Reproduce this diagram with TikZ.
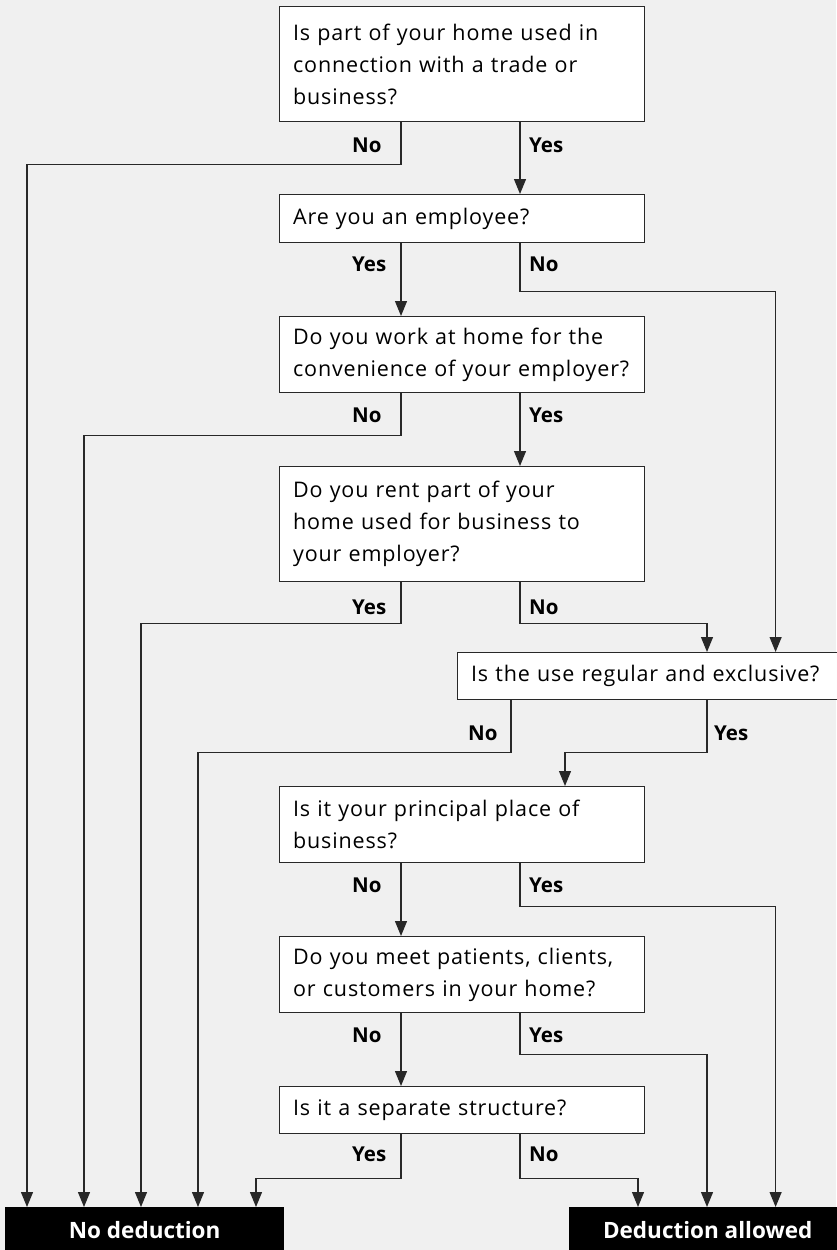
\documentclass[tikz,border=0pt]{standalone}
\usepackage{fontspec}
\setmainfont{Open Sans}[Ligatures=NoCommon]
\newfontfamily\boxfont{Open Sans}[Ligatures=NoCommon, LetterSpace=4]
\usetikzlibrary{arrows.meta}
\definecolor{bgc}{RGB}{240,240,240}
\definecolor{linec}{RGB}{40,40,40}
\begin{document}
\begin{tikzpicture}[x=1pt,y=-1pt,
  qbox/.style={draw=linec, line width=1.2pt, fill=white, anchor=north west,
    text width=338pt, inner xsep=13.5pt, inner ysep=0pt, align=left,
    font=\boxfont\fontsize{21.5}{32}\selectfont},
  endbox/.style={fill=black, text=white, anchor=north west, inner sep=0pt,
    font=\fontsize{22.5}{26}\selectfont\bfseries},
  lab/.style={anchor=west, inner sep=0pt, font=\fontsize{20.5}{24}\selectfont\bfseries},
  conn/.style={draw=linec, line width=1.2pt},
  arr/.style={conn, -{Triangle[width=12pt,length=15pt]}}]
\useasboundingbox (0,0) rectangle (836,1250);
\fill[bgc] (0,0) rectangle (836,1250);

% columns
\coordinate (cA) at (27,0);
\coordinate (cB) at (84,0);
\coordinate (cC) at (141,0);
\coordinate (cD) at (198,0);
\coordinate (cE) at (256,0);
\coordinate (cL) at (401,0);
\coordinate (cR) at (520,0);
\coordinate (cM) at (511,0);
\coordinate (cN) at (565,0);
\coordinate (cP) at (638,0);
\coordinate (cQ) at (707,0);
\coordinate (cS) at (775.6,0);

% question boxes
\node[qbox, minimum height=115pt] (b1) at (279,6) {Is part of your home used in\\connection with a trade or\\business?};
\node[qbox, minimum height=48pt] (b2) at (279,194) {Are you an employee?};
\node[qbox, minimum height=76pt] (b3) at (279,316) {Do you work at home for the\\convenience of your employer?};
\node[qbox, minimum height=115pt] (b4) at (279,466) {Do you rent part of your\\home used for business to\\your employer?};
\node[qbox, minimum height=47pt, text width=363pt] (b5) at (457,652) {Is the use regular and exclusive?};
\node[qbox, minimum height=76pt] (b6) at (279,786) {Is it your principal place of\\business?};
\node[qbox, minimum height=76pt] (b7) at (279,936) {Do you meet patients, clients,\\or customers in your home?};
\node[qbox, minimum height=47pt] (b8) at (279,1086) {Is it a separate structure?};

% end boxes
\node[endbox, minimum width=279pt, minimum height=46pt] (nd) at (5,1207) {No deduction};
\node[endbox, minimum width=277pt, minimum height=46pt] (da) at (569,1207) {Deduction allowed};

% labels
\node[lab] (l1n) at (352,145) {No};
\node[lab] (l1y) at (529,145) {Yes};
\node[lab] (l2y) at (352,264) {Yes};
\node[lab] (l2n) at (529,264) {No};
\node[lab] (l3n) at (352,415) {No};
\node[lab] (l3y) at (529,415) {Yes};
\node[lab] (l4y) at (352,607) {Yes};
\node[lab] (l4n) at (529,607) {No};
\node[lab] (l5n) at (468,733) {No};
\node[lab] (l5y) at (714,733) {Yes};
\node[lab] (l6n) at (352,885) {No};
\node[lab] (l6y) at (529,885) {Yes};
\node[lab] (l7n) at (352,1035) {No};
\node[lab] (l7y) at (529,1035) {Yes};
\node[lab] (l8y) at (352,1154) {Yes};
\node[lab] (l8n) at (529,1154) {No};

% connectors
\draw[arr] (b1.south -| cL) -- ++(0,42) -| (nd.north -| cA);
\draw[arr] (b1.south -| cR) -- (b2.north -| cR);
\draw[arr] (b2.south -| cL) -- (b3.north -| cL);
\draw[arr] (b2.south -| cR) -- ++(0,48) -| (b5.north -| cS);
\draw[arr] (b3.south -| cL) -- ++(0,42) -| (nd.north -| cB);
\draw[arr] (b3.south -| cR) -- (b4.north -| cR);
\draw[arr] (b4.south -| cL) -- ++(0,41) -| (nd.north -| cC);
\draw[arr] (b4.south -| cR) -- ++(0,41) -| (b5.north -| cQ);
\draw[arr] (b5.south -| cM) -- ++(0,52) -| (nd.north -| cD);
\draw[arr] (b5.south -| cQ) -- ++(0,52) -| (b6.north -| cN);
\draw[arr] (b6.south -| cL) -- (b7.north -| cL);
\draw[arr] (b6.south -| cR) -- ++(0,43) -| (da.north -| cS);
\draw[arr] (b7.south -| cL) -- (b8.north -| cL);
\draw[arr] (b7.south -| cR) -- ++(0,41) -| (da.north -| cQ);
\draw[arr] (b8.south -| cL) -- ++(0,44) -| (nd.north -| cE);
\draw[arr] (b8.south -| cR) -- ++(0,44) -| (da.north -| cP);
\end{tikzpicture}
\end{document}
